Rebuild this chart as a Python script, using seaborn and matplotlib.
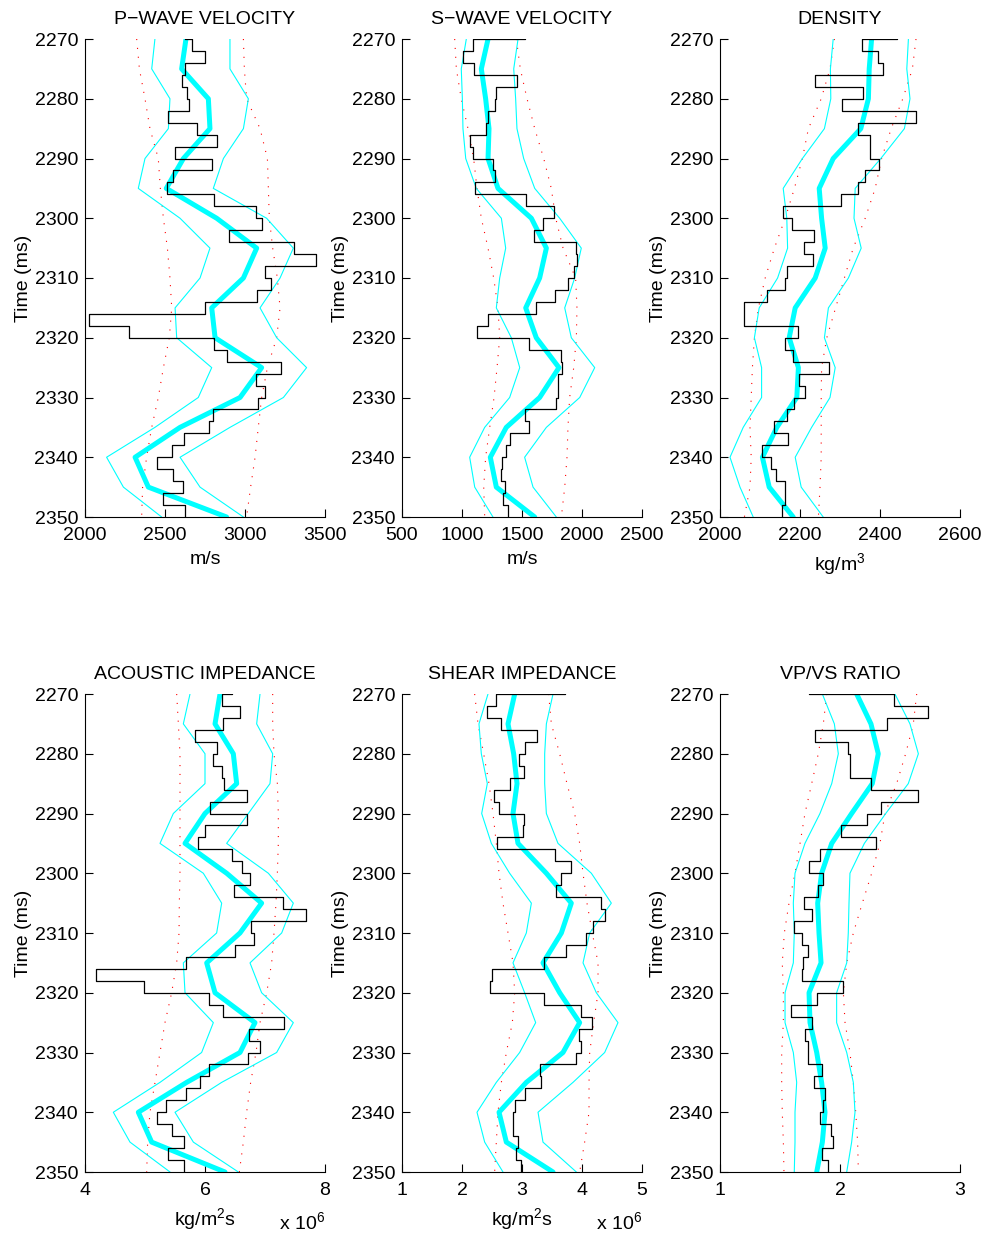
import numpy as np
import pandas as pd
import matplotlib
matplotlib.use("Agg")
import matplotlib.pyplot as plt
import seaborn as sns

# time axes
t_log = np.arange(2268, 2352, 2)      # step edges (first step sits above the plot)
t_crv = np.arange(2270, 2355, 5)      # smooth curves

# ---- P-wave velocity (m/s)
vp_log = [2625, 2667, 2750, 2625, 2604, 2640, 2652, 2521, 2698, 2823, 2563, 2792, 2548, 2515,
          2806, 3069, 3104, 2902, 3308, 3444, 3125, 3160, 3073, 2752, 2027, 2277, 2806, 2890,
          3223, 3067, 3125, 3083, 2802, 2777, 2621, 2542, 2448, 2548, 2615, 2490, 2625]
vp_mean = [2631, 2604, 2771, 2781, 2615, 2508, 2823, 3073, 2990, 2792, 2813, 3104, 2969, 2594, 2313, 2396, 2885]
vp_lo = [2437, 2417, 2531, 2521, 2375, 2333, 2594, 2781, 2719, 2563, 2573, 2792, 2708, 2437, 2135, 2240, 2479]
vp_hi = [2906, 2906, 3021, 2990, 2865, 2802, 3135, 3302, 3219, 3094, 3198, 3385, 3240, 2906, 2594, 2719, 2990]
vp_plo = [2323, 2340, 2375, 2406, 2458, 2471, 2490, 2515, 2531, 2542, 2527, 2490, 2458, 2417, 2385, 2360, 2354]
vp_phi = [2990, 2996, 3010, 3094, 3140, 3146, 3152, 3173, 3202, 3219, 3198, 3140, 3104, 3083, 3063, 3035, 3010]

# ---- S-wave velocity (m/s)
vs_log = [1522, 1092, 1008, 1097, 1458, 1286, 1278, 1217, 1197, 1064, 1092, 1258, 1272, 1106,
          1536, 1767, 1675, 1597, 1947, 1958, 1931, 1883, 1772, 1619, 1217, 1128, 1558, 1828,
          1833, 1800, 1800, 1781, 1522, 1558, 1397, 1364, 1336, 1328, 1356, 1342, 1383]
vs_mean = [1217, 1161, 1197, 1225, 1217, 1300, 1578, 1703, 1647, 1531, 1619, 1808, 1647, 1369, 1236, 1286, 1606]
vs_lo = [1036, 994, 1003, 1008, 1031, 1119, 1328, 1364, 1314, 1286, 1411, 1481, 1397, 1189, 1064, 1106, 1258]
vs_hi = [1467, 1431, 1447, 1458, 1514, 1606, 1814, 1994, 1939, 1856, 1911, 2106, 1981, 1703, 1522, 1592, 1786]
vs_plo = [939, 953, 994, 1050, 1097, 1125, 1161, 1217, 1264, 1300, 1314, 1292, 1267, 1231, 1197, 1181, 1189]
vs_phi = [1453, 1486, 1542, 1606, 1681, 1744, 1781, 1842, 1947, 1958, 1953, 1931, 1897, 1883, 1875, 1856, 1828]

# ---- density (kg/m3)
rho_log = [2442, 2354, 2396, 2408, 2238, 2358, 2304, 2490, 2344, 2376, 2376, 2398, 2363, 2344,
           2302, 2158, 2179, 2236, 2210, 2233, 2167, 2163, 2118, 2061, 2061, 2196, 2163, 2183,
           2273, 2198, 2213, 2185, 2167, 2136, 2169, 2104, 2127, 2140, 2163, 2163, 2154]
rho_mean = [2379, 2373, 2371, 2352, 2283, 2248, 2254, 2263, 2238, 2188, 2173, 2196, 2192, 2142, 2106, 2123, 2183]
rho_lo = [2283, 2276, 2277, 2261, 2206, 2158, 2167, 2169, 2144, 2098, 2086, 2104, 2104, 2058, 2025, 2050, 2083]
rho_hi = [2471, 2467, 2475, 2461, 2402, 2338, 2335, 2353, 2321, 2271, 2261, 2288, 2275, 2229, 2188, 2203, 2258]
rho_plo = [2286, 2275, 2253, 2221, 2206, 2186, 2163, 2136, 2113, 2096, 2086, 2081, 2078, 2075, 2078, 2075, 2061]
rho_phi = [2490, 2481, 2457, 2428, 2404, 2388, 2363, 2333, 2311, 2289, 2267, 2254, 2253, 2253, 2253, 2250, 2246]

# ---- acoustic impedance (x 1e6)
ai_log = [6.444, 6.278, 6.583, 6.306, 5.833, 6.206, 6.128, 6.278, 6.317, 6.694, 6.083, 6.694, 6.000, 5.889,
          6.444, 6.622, 6.750, 6.489, 7.306, 7.683, 6.761, 6.817, 6.500, 5.683, 4.183, 4.989, 6.067, 6.306,
          7.317, 6.739, 6.917, 6.722, 6.072, 5.917, 5.683, 5.350, 5.194, 5.444, 5.650, 5.389, 5.656]
ai_mean = [6.250, 6.167, 6.472, 6.528, 6.000, 5.667, 6.361, 6.944, 6.583, 6.028, 6.167, 6.833, 6.583, 5.694, 4.889, 5.111, 6.333]
ai_lo = [5.750, 5.639, 6.000, 6.000, 5.472, 5.250, 5.972, 6.278, 6.194, 5.639, 5.667, 6.139, 5.944, 5.250, 4.472, 4.750, 5.417]
ai_hi = [6.917, 6.861, 7.128, 7.083, 6.722, 6.361, 7.056, 7.472, 7.278, 6.750, 6.944, 7.472, 7.194, 6.278, 5.500, 5.806, 6.556]
ai_plo = [5.528, 5.556, 5.583, 5.583, 5.583, 5.583, 5.583, 5.572, 5.567, 5.528, 5.444, 5.333, 5.250, 5.167, 5.083, 5.044, 5.028]
ai_phi = [7.128, 7.128, 7.150, 7.206, 7.222, 7.222, 7.206, 7.183, 7.150, 7.111, 7.028, 6.917, 6.850, 6.761, 6.694, 6.639, 6.572]

# ---- shear impedance (x 1e6)
si_log = [3.711, 2.572, 2.417, 2.644, 3.256, 3.044, 2.950, 3.033, 2.794, 2.533, 2.617, 3.033, 3.017, 2.583,
          3.544, 3.811, 3.656, 3.572, 4.311, 4.378, 4.183, 4.072, 3.739, 3.361, 2.506, 2.472, 3.367, 3.978,
          4.172, 3.950, 3.989, 3.894, 3.306, 3.322, 3.044, 2.878, 2.850, 2.850, 2.933, 2.906, 2.989]
si_mean = [2.878, 2.767, 2.861, 2.917, 2.850, 2.933, 3.406, 3.822, 3.656, 3.350, 3.628, 3.961, 3.683, 3.072, 2.617, 2.739, 3.517]
si_lo = [2.433, 2.283, 2.322, 2.422, 2.328, 2.489, 2.794, 3.156, 3.072, 2.850, 3.044, 3.228, 2.961, 2.572, 2.250, 2.378, 2.683]
si_hi = [3.517, 3.406, 3.378, 3.378, 3.406, 3.600, 4.156, 4.489, 4.128, 4.017, 4.239, 4.600, 4.378, 3.850, 3.267, 3.350, 3.906]
si_plo = [2.211, 2.267, 2.361, 2.450, 2.517, 2.572, 2.617, 2.683, 2.767, 2.850, 2.878, 2.839, 2.739, 2.656, 2.600, 2.572, 2.544]
si_phi = [3.444, 3.489, 3.628, 3.750, 3.878, 3.961, 4.017, 4.083, 4.172, 4.267, 4.267, 4.194, 4.128, 4.117, 4.117, 4.044, 3.961]

# ---- Vp/Vs ratio
vpvs_log = [1.742, 2.453, 2.736, 2.389, 1.792, 2.069, 2.083, 2.083, 2.258, 2.653, 2.342, 2.222, 2.006, 2.297,
            1.833, 1.744, 1.856, 1.819, 1.703, 1.764, 1.619, 1.681, 1.736, 1.689, 1.681, 2.028, 1.806, 1.592,
            1.764, 1.708, 1.736, 1.731, 1.847, 1.786, 1.875, 1.861, 1.833, 1.922, 1.944, 1.853, 1.897]
vpvs_mean = [2.139, 2.258, 2.319, 2.269, 2.097, 1.931, 1.847, 1.814, 1.825, 1.842, 1.742, 1.750, 1.806, 1.847, 1.875, 1.853, 1.806]
vpvs_lo = [1.853, 1.953, 1.986, 1.931, 1.833, 1.708, 1.625, 1.611, 1.619, 1.611, 1.542, 1.542, 1.611, 1.639, 1.625, 1.625, 1.619]
vpvs_hi = [2.458, 2.583, 2.653, 2.569, 2.381, 2.203, 2.083, 2.075, 2.069, 2.056, 1.972, 1.972, 2.056, 2.111, 2.125, 2.097, 2.056]
vpvs_plo = [1.889, 1.861, 1.819, 1.764, 1.708, 1.667, 1.625, 1.575, 1.536, 1.519, 1.528, 1.528, 1.514, 1.514, 1.519, 1.528, 1.533]
vpvs_phi = [2.639, 2.611, 2.547, 2.472, 2.375, 2.333, 2.264, 2.186, 2.111, 2.056, 2.028, 2.042, 2.083, 2.111, 2.131, 2.147, 2.153]

titles = ["P\u2212WAVE VELOCITY", "S\u2212WAVE VELOCITY", "DENSITY",
          "ACOUSTIC IMPEDANCE", "SHEAR IMPEDANCE", "VP/VS RATIO"]
units = ["m/s", "m/s", "kg/m$^3$", "kg/m$^2$s", "kg/m$^2$s", ""]
xticks = [[2000, 2500, 3000, 3500], [500, 1000, 1500, 2000, 2500], [2000, 2200, 2400, 2600],
          [4, 6, 8], [1, 2, 3, 4, 5], [1, 2, 3]]

panels = [
    (vp_log, vp_mean, vp_lo, vp_hi, vp_plo, vp_phi),
    (vs_log, vs_mean, vs_lo, vs_hi, vs_plo, vs_phi),
    (rho_log, rho_mean, rho_lo, rho_hi, rho_plo, rho_phi),
    (ai_log, ai_mean, ai_lo, ai_hi, ai_plo, ai_phi),
    (si_log, si_mean, si_lo, si_hi, si_plo, si_phi),
    (vpvs_log, vpvs_mean, vpvs_lo, vpvs_hi, vpvs_plo, vpvs_phi),
]

sns.set_style("ticks")
plt.rcParams["font.family"] = ["Liberation Sans", "DejaVu Sans"]
plt.rcParams["mathtext.default"] = "regular"
plt.rcParams["font.size"] = 14
plt.rcParams["text.color"] = "black"
plt.rcParams["axes.labelcolor"] = "black"
plt.rcParams["xtick.color"] = "black"
plt.rcParams["ytick.color"] = "black"

W, H = 986, 1237
fig = plt.figure(figsize=(W / 100, H / 100), dpi=100)
lefts = [85, 402, 720]
tops = [39, 694]
aw, ah = 240, 478
fs = 14

for i, (log, mean, lo, hi, plo, phi) in enumerate(panels):
    L = lefts[i % 3]
    T = tops[i // 3]
    ax = fig.add_axes([L / W, 1 - (T + ah) / H, aw / W, ah / H])

    crv = pd.DataFrame({"t": t_crv, "mean": mean, "lo": lo, "hi": hi, "plo": plo, "phi": phi})
    stp = pd.DataFrame({"t": t_log, "v": list(log) + [log[-1]]})

    for col in ["plo", "phi"]:
        sns.lineplot(data=crv, x=col, y="t", orient="y", ax=ax, color="red",
                     lw=0.8, linestyle=(0, (1, 7)), estimator=None, errorbar=None)
    for col in ["lo", "hi"]:
        sns.lineplot(data=crv, x=col, y="t", orient="y", ax=ax, color="cyan",
                     lw=0.8, estimator=None, errorbar=None)
    sns.lineplot(data=crv, x="mean", y="t", orient="y", ax=ax, color="cyan",
                 lw=3.6, estimator=None, errorbar=None)
    sns.lineplot(data=stp, x="v", y="t", orient="y", ax=ax, color="black",
                 lw=0.9, drawstyle="steps-pre", estimator=None, errorbar=None)

    ax.set_xlim(xticks[i][0], xticks[i][-1])
    ax.set_ylim(2350, 2270)
    ax.set_xticks(xticks[i])
    ax.set_yticks(np.arange(2270, 2351, 10))
    ax.tick_params(direction="in", length=6, width=0.8, labelsize=fs, colors="black")
    ax.tick_params(axis="y", pad=5)
    ax.tick_params(axis="x", pad=7)
    for s in ["left", "bottom"]:
        ax.spines[s].set_linewidth(0.8)
        ax.spines[s].set_color("black")
    sns.despine(ax=ax)
    ax.set_title(titles[i], fontsize=fs, pad=11, color="black")
    ax.set_xlabel(units[i], fontsize=fs, labelpad=5)
    ax.set_ylabel("Time (ms)", fontsize=fs, labelpad=2)
    if i in (3, 4):
        ax.text(1.0, -0.105, "x 10$^6$", transform=ax.transAxes, ha="right",
                va="center", fontsize=fs)

fig.savefig("out.png", dpi=100)
